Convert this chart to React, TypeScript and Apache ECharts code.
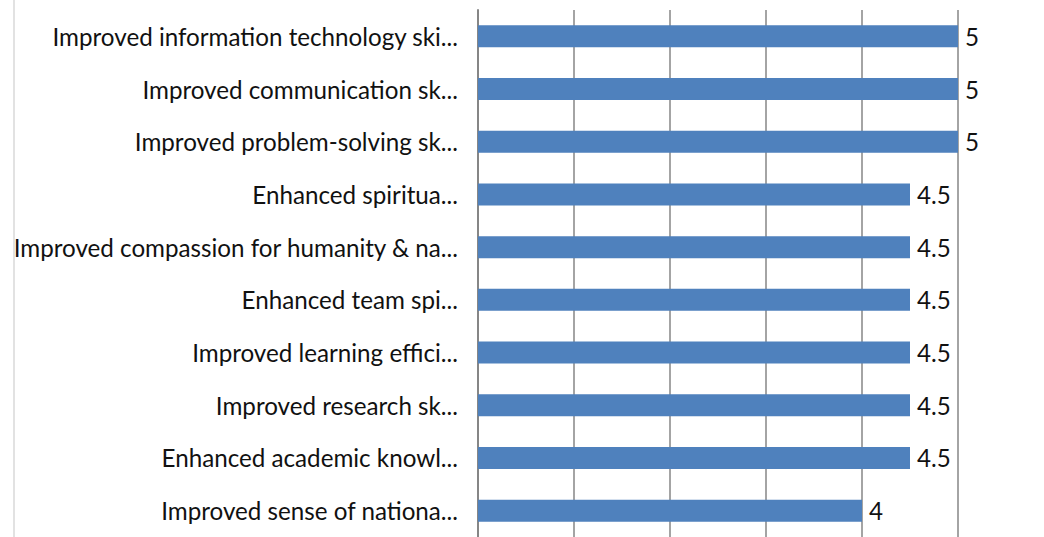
import React, { useEffect, useRef } from "react";
import * as echarts from "echarts";

const categories = [
  "Improved information technology ski...",
  "Improved communication sk...",
  "Improved problem-solving sk...",
  "Enhanced spiritua...",
  "Improved compassion for humanity & na...",
  "Enhanced team spi...",
  "Improved learning effici...",
  "Improved research sk...",
  "Enhanced academic knowl...",
  "Improved sense of nationa...",
];
const values = [5, 5, 5, 4.5, 4.5, 4.5, 4.5, 4.5, 4.5, 4];

export default function App() {
  const ref = useRef<HTMLDivElement>(null);
  useEffect(() => {
    document.body.style.margin = "0";
    const chart = echarts.init(ref.current!, null, { renderer: "svg" });
    chart.setOption({
      animation: false,
      textStyle: { fontFamily: "Lato" },
      grid: { left: 478, right: 86, top: 10, height: 528 },
      xAxis: {
        type: "value",
        min: 0,
        max: 5,
        interval: 1,
        axisLabel: { show: false },
        axisLine: { show: false },
        axisTick: { show: false },
        splitLine: { lineStyle: { color: "#868686", width: 1.5 } },
      },
      yAxis: {
        type: "category",
        inverse: true,
        data: categories,
        axisLine: { lineStyle: { color: "#868686", width: 2 } },
        axisTick: { length: 11, lineStyle: { color: "#868686", width: 2 } },
        axisLabel: {
          margin: 20,
          fontSize: 24.2,
          color: "#111",
          fontFamily: "Lato",
          verticalAlign: "middle",
          padding: [0, 0, 8, 0],
        },
      },
      graphic: [
        {
          type: "line",
          shape: { x1: 14, y1: 0, x2: 14, y2: 537 },
          style: { stroke: "#d9d9d9", lineWidth: 1.5 },
        },
      ],
      series: [
        {
          type: "bar",
          data: values,
          barWidth: 22,
          itemStyle: { color: "#4f81bd" },
          label: {
            show: true,
            position: "right",
            distance: 7,
            fontSize: 24.2,
            color: "#111",
            fontFamily: "Lato",
            padding: [0, 0, 8, 0],
          },
        },
      ],
    });
    return () => chart.dispose();
  }, []);
  return <div ref={ref} style={{ width: 1044, height: 537 }} />;
}
